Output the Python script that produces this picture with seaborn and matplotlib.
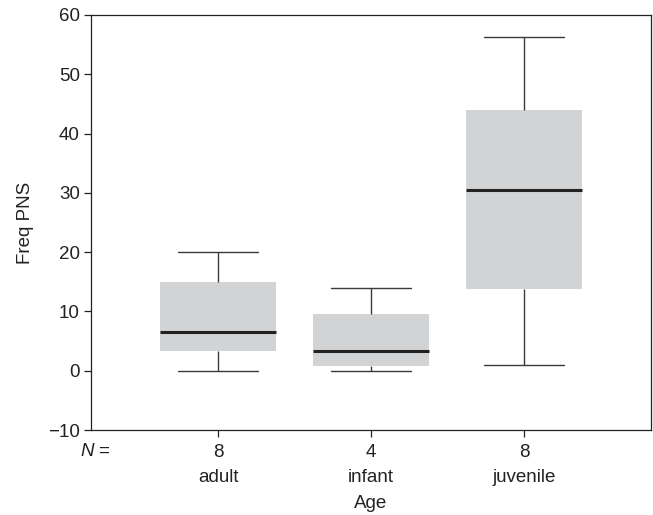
import pandas as pd
import seaborn as sns
from matplotlib import pyplot as plt

ages = ["adult", "infant", "juvenile"]
n_counts = [8, 4, 8]
adult_vals = [0, 3, 3.4, 6, 7.2, 14, 18, 20]
infant_vals = [0, 0.84, 3.4, 9.55, 13.9]
juvenile_vals = [1, 12, 14.4, 28, 33, 42, 50, 56.2]
y_ticks = [-10, 0, 10, 20, 30, 40, 50, 60]

df = pd.DataFrame({
    "Age": ["adult"] * len(adult_vals) + ["infant"] * len(infant_vals)
    + ["juvenile"] * len(juvenile_vals),
    "Freq PNS": adult_vals + infant_vals + juvenile_vals,
})

sns.set_style("ticks")
plt.rcParams["font.family"] = ["Liberation Sans", "DejaVu Sans"]
plt.rcParams["font.size"] = 13.5

fig = plt.figure(figsize=(6.53, 5.15), dpi=100)
ax = fig.add_axes([0.1394, 0.165, 0.8576, 0.806])

sns.boxplot(
    data=df,
    x="Age",
    y="Freq PNS",
    order=ages,
    ax=ax,
    width=0.76,
    color="#d2d3d5",
    saturation=1,
    whis=3,
    linewidth=1,
    linecolor="#3a3a3a",
    boxprops={"edgecolor": "none"},
    medianprops={"color": "#222222", "linewidth": 2.2},
    capwidths=0.52,
)

ax.set_xlim(-0.83, 2.83)
ax.set_ylim(-10, 60)
ax.set_yticks(y_ticks)
for spine in ax.spines.values():
    spine.set_visible(True)
    spine.set_linewidth(0.9)
    spine.set_color("#222222")
ax.tick_params(direction="out", length=5, width=0.9, color="#222222",
               labelcolor="#222222", pad=3)
ax.tick_params(axis="x", pad=5)

ax.set_xticks(range(len(ages)))
ax.set_xticklabels([f"{n}\n{a}" for n, a in zip(n_counts, ages)])
for lab in ax.get_xticklabels():
    lab.set_linespacing(1.6)

ax.set_xlabel("Age", labelpad=7, color="#222222")
ax.set_ylabel("Freq PNS", labelpad=10, color="#222222")

# "N =" row label at the left of the counts
fig.text(80 / 653, 1 - 456 / 515, "N", style="italic", color="#222222",
         va="baseline", ha="left")
fig.text(98 / 653, 1 - 456 / 515, "=", color="#222222",
         va="baseline", ha="left")

fig.savefig("out.png", dpi=100)
